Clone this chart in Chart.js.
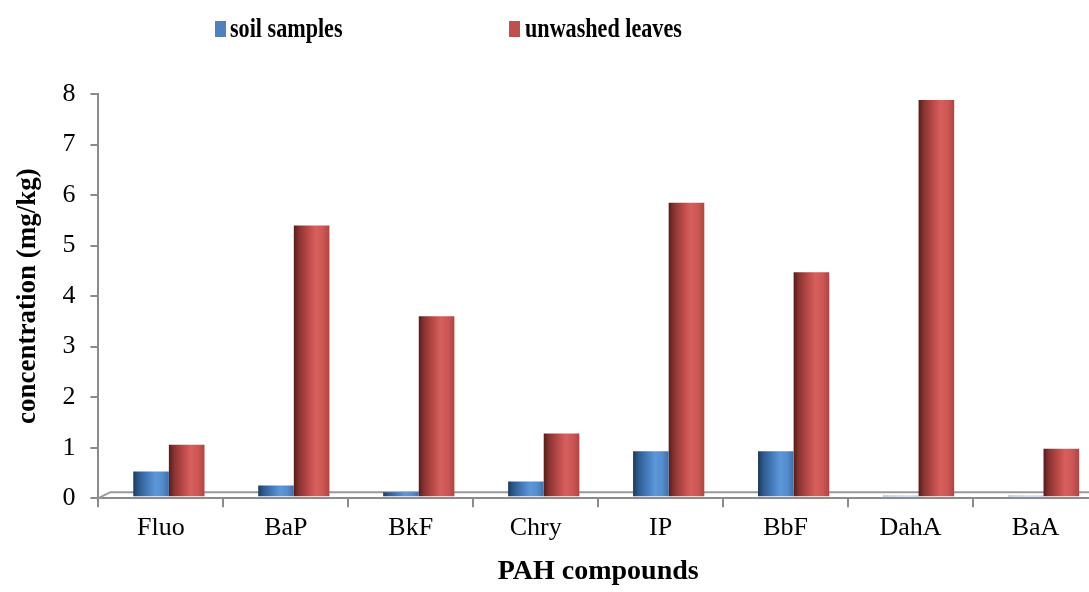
<!DOCTYPE html>
<html>
<head>
<meta charset="utf-8">
<script src="https://cdn.jsdelivr.net/npm/chart.js@4.4.1/dist/chart.umd.min.js"></script>
<style>
  html, body { margin: 0; padding: 0; background: #fff; overflow: hidden; }
  #wrap { position: relative; width: 1100px; height: 592px; }
  .leg { position: absolute; top: 15px; font: bold 27px 'Liberation Serif', 'Times New Roman', serif; line-height: 27px; color: #000; white-space: nowrap; }
  .leg i { position: absolute; top: 6px; width: 11px; height: 16px; }
  .leg span { display: inline-block; transform: scaleX(0.82); transform-origin: left center; }
</style>
</head>
<body>
<div id="wrap">
  <canvas id="chart" width="1100" height="592"></canvas>
  <div class="leg" style="left:215px"><i style="left:0;background:#4f81bd"></i><span style="margin-left:15px">soil samples</span></div>
  <div class="leg" style="left:509px"><i style="left:0;background:#c0504d"></i><span style="margin-left:16px">unwashed leaves</span></div>
</div>
<script>
// PAH compounds
const compuestos = ['Fluo', 'BaP', 'BkF', 'Chry', 'IP', 'BbF', 'DahA', 'BaA'];
const suelo = [0.51, 0.23, 0.1, 0.31, 0.91, 0.91, 0.03, 0.03];
const hojas = [1.04, 5.38, 3.58, 1.26, 5.83, 4.45, 7.86, 0.96];
const yTicks = [0, 1, 2, 3, 4, 5, 6, 7, 8];
const series = ['soil samples', 'unwashed leaves'];

const serif = "'Liberation Serif', 'Times New Roman', serif";
const catPct = 0.57;

// cylinder look: horizontal gradient per bar
const paradas = {
  0: ['#1d3a5f', '#2e5a8e', '#4a82c3', '#5d97d8', '#548dcd', '#3f70aa'],
  1: ['#551c1b', '#893432', '#c24e4c', '#d6605e', '#cc5654', '#b04442']
};
function cilindro(c) {
  const chart = c.chart;
  const xs = chart.scales.x;
  const base = c.datasetIndex === 0 ? '#4f81bd' : '#c0504d';
  if (c.type !== 'data' || !xs || !chart.chartArea) return base;
  const centro = xs.getPixelForValue(c.dataIndex);
  const catW = xs.width / compuestos.length;
  const grupo = catW * catPct;
  const ancho = grupo / 2;
  const izq = centro - grupo / 2 + c.datasetIndex * ancho;
  const g = chart.ctx.createLinearGradient(izq, 0, izq + ancho, 0);
  const cols = paradas[c.datasetIndex];
  [0, 0.15, 0.45, 0.62, 0.82, 1].forEach((p, i) => g.addColorStop(p, cols[i]));
  return g;
}

// 3D floor + shift of the bars like the original
const piso = {
  id: 'piso',
  beforeDatasetsDraw(chart) {
    const { ctx, chartArea } = chart;
    const y0 = chart.scales.y.getPixelForValue(0);
    ctx.save();
    ctx.strokeStyle = '#9a9a9a';
    ctx.lineWidth = 2;
    ctx.beginPath();
    ctx.moveTo(chartArea.left, y0);
    ctx.lineTo(chartArea.left + 12, y0 - 6);
    ctx.lineTo(chartArea.right, y0 - 6);
    ctx.stroke();
    ctx.restore();
    ctx.save();
    ctx.translate(8, -1);
  },
  afterDatasetsDraw(chart) {
    chart.ctx.restore();
  }
};

new Chart(document.getElementById('chart'), {
  type: 'bar',
  data: {
    labels: compuestos,
    datasets: [
      { label: series[0], data: suelo, backgroundColor: cilindro, borderWidth: 0 },
      { label: series[1], data: hojas, backgroundColor: cilindro, borderWidth: 0 }
    ]
  },
  options: {
    responsive: false,
    animation: false,
    layout: { padding: { top: 94, left: 12, right: 2, bottom: 3 } },
    datasets: { bar: { barPercentage: 1, categoryPercentage: catPct } },
    scales: {
      x: {
        grid: { drawOnChartArea: false, drawTicks: true, tickLength: 9, color: '#8c8c8c', lineWidth: 2, offset: true },
        border: { display: true, color: '#8c8c8c', width: 2 },
        ticks: { color: '#000', padding: 5, font: { family: serif, size: 26 } },
        title: { display: true, text: 'PAH compounds', color: '#000', padding: { top: 7, bottom: 0 }, font: { family: serif, size: 28, weight: 'bold' } }
      },
      y: {
        min: 0,
        max: 8,
        afterBuildTicks: axis => { axis.ticks = yTicks.map(v => ({ value: v })); },
        grid: { drawOnChartArea: false, drawTicks: true, tickLength: 8, color: '#8c8c8c', lineWidth: 2 },
        border: { display: true, color: '#8c8c8c', width: 2 },
        ticks: { color: '#000', padding: 15, font: { family: serif, size: 26 } },
        title: { display: true, text: 'concentration (mg/kg)', color: '#000', padding: { top: 0, bottom: 3 }, font: { family: serif, size: 27, weight: 'bold' } }
      }
    },
    plugins: {
      legend: { display: false },
      tooltip: { enabled: false }
    }
  },
  plugins: [piso]
});
</script>
</body>
</html>
